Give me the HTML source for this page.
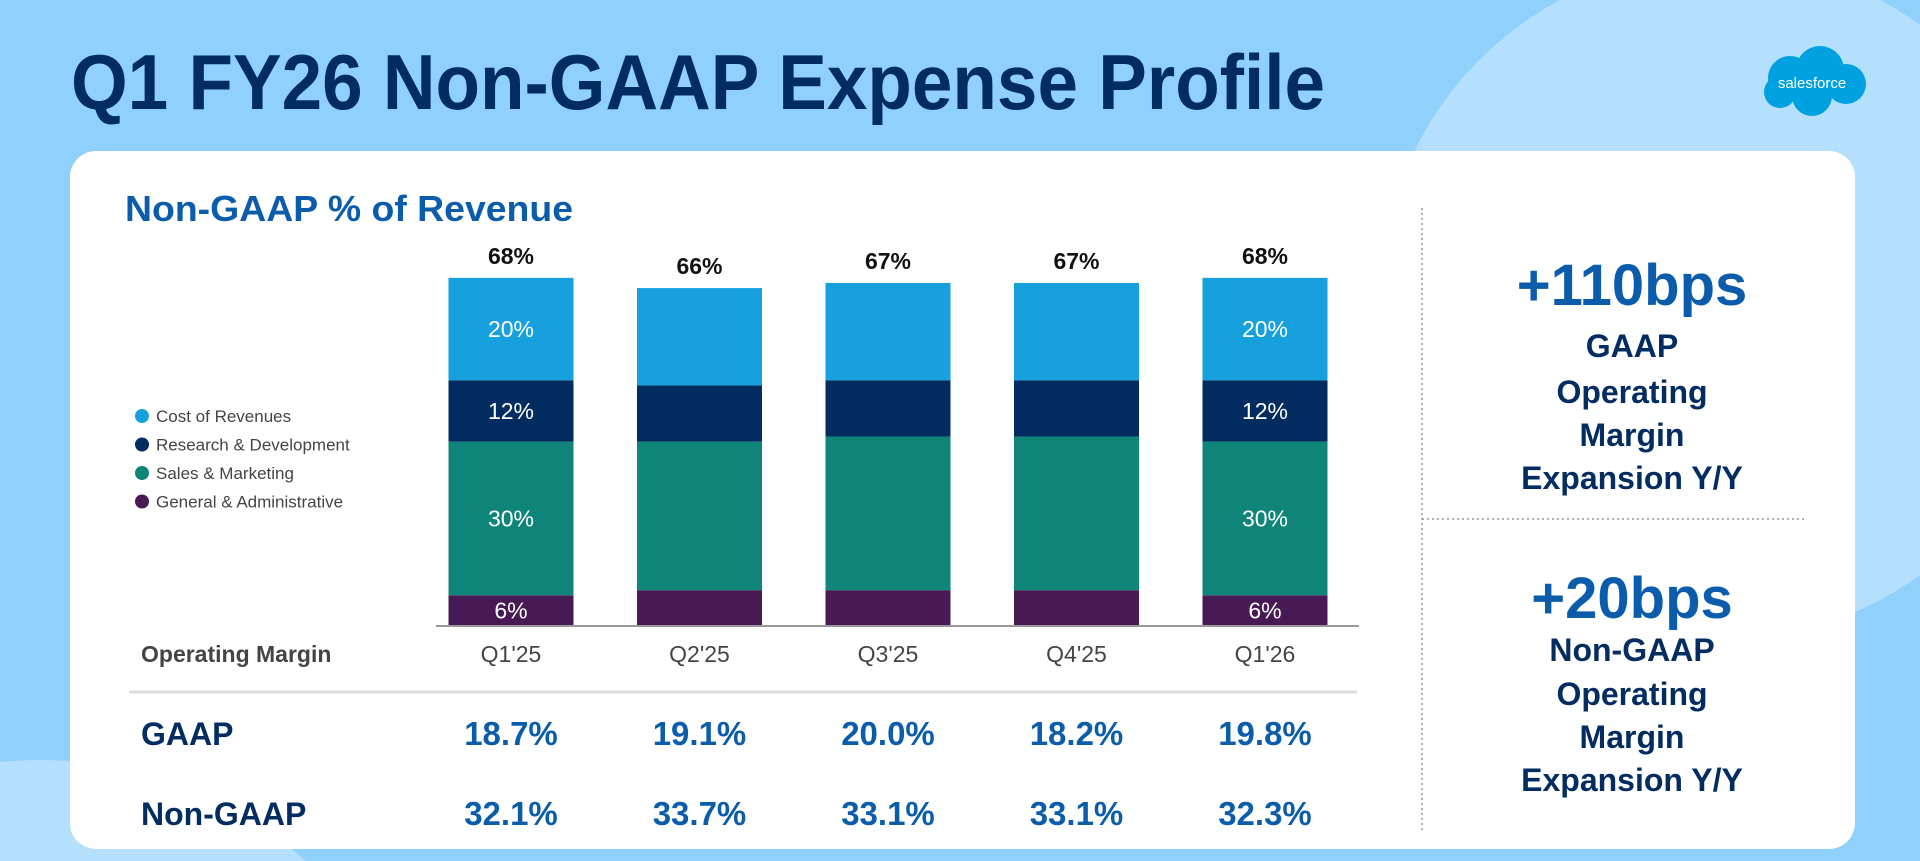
<!DOCTYPE html>
<html><head><meta charset="utf-8"><style>
html,body{margin:0;padding:0;background:#90d0fc;width:1920px;height:861px;overflow:hidden;}
svg{display:block;font-family:"Liberation Sans",sans-serif;}
</style></head><body>
<svg id="chart" width="1920" height="861" viewBox="0 0 1920 861">
<rect x="0" y="0" width="1920" height="861" fill="#90d0fc"/>
<circle cx="1720" cy="300" r="340" fill="#b5e0fd"/>
<circle cx="40" cy="1160" r="400" fill="#b5e0fd"/>
<text x="71" y="109" font-size="78" font-weight="bold" fill="#032d60" textLength="1254" lengthAdjust="spacingAndGlyphs">Q1 FY26 Non-GAAP Expense Profile</text>
<g>
<circle cx="1790" cy="78" r="22" fill="#00a1e0"/><circle cx="1820" cy="70" r="24" fill="#00a1e0"/><circle cx="1846" cy="84" r="20" fill="#00a1e0"/><circle cx="1812" cy="96" r="20" fill="#00a1e0"/><circle cx="1780" cy="92" r="16" fill="#00a1e0"/>
<text x="1812" y="88" font-size="15" fill="#fff" text-anchor="middle">salesforce</text>
</g>
<rect x="70" y="151" width="1785" height="698" rx="26" fill="#fff"/>
<text x="125" y="221" font-size="36" font-weight="bold" fill="#0b5cab" textLength="448" lengthAdjust="spacingAndGlyphs">Non-GAAP % of Revenue</text>
<g id="legend"></g>
<g id="bars"></g>
<line x1="436" y1="626" x2="1359" y2="626" stroke="#999" stroke-width="2"/>
<text x="141" y="662" font-size="23" font-weight="bold" fill="#444">Operating Margin</text>
<line x1="129" y1="692" x2="1357" y2="692" stroke="#ddd" stroke-width="3"/>
<text x="141" y="745" font-size="32" font-weight="bold" fill="#032d60">GAAP</text>
<text x="141" y="825" font-size="32" font-weight="bold" fill="#032d60">Non-GAAP</text>
<g id="table"></g>
<line x1="1422" y1="208" x2="1422" y2="830" stroke="#999" stroke-width="1.5" stroke-dasharray="2,3"/>
<line x1="1422" y1="519" x2="1805" y2="519" stroke="#999" stroke-width="1.5" stroke-dasharray="2,3"/>
<g text-anchor="middle" font-weight="bold">
<text x="1632" y="305" font-size="58" fill="#0b5cab">+110bps</text>
<text x="1632" y="357" font-size="32" fill="#032d60">GAAP</text>
<text x="1632" y="403" font-size="32" fill="#032d60">Operating</text>
<text x="1632" y="446" font-size="32" fill="#032d60">Margin</text>
<text x="1632" y="489" font-size="32" fill="#032d60">Expansion Y/Y</text>
</g>
<g text-anchor="middle" font-weight="bold">
<text x="1632" y="618" font-size="58" fill="#0b5cab">+20bps</text>
<text x="1632" y="661" font-size="32" fill="#032d60">Non-GAAP</text>
<text x="1632" y="705" font-size="32" fill="#032d60">Operating</text>
<text x="1632" y="748" font-size="32" fill="#032d60">Margin</text>
<text x="1632" y="791" font-size="32" fill="#032d60">Expansion Y/Y</text>
</g>
</svg>
<script>
const categories = ["Q1'25","Q2'25","Q3'25","Q4'25","Q1'26"];
const seriesNames = ["General & Administrative","Sales & Marketing","Research & Development","Cost of Revenues"];
const gaValues = [6,7,7,7,6];
const smValues = [30,29,30,30,30];
const rdValues = [12,11,11,11,12];
const costValues = [20,19,19,19,20];
const totalLabels = ["68%","66%","67%","67%","68%"];
const showInner = [true,false,false,false,true];
const gaapMargin = ["18.7%","19.1%","20.0%","18.2%","19.8%"];
const nonGaapMargin = ["32.1%","33.7%","33.1%","33.1%","32.3%"];

const NS="http://www.w3.org/2000/svg";
const colors=["#481a54","#0f857a","#032d60","#16a0dd"];
const baseY=626, pxPer=5.12, barW=125;
const xCenter=i=>511+i*188.5;
const yScale=v=>baseY-v*pxPer;
function mk(tag,attrs,parent){const e=document.createElementNS(NS,tag);for(const k in attrs)e.setAttribute(k,attrs[k]);parent.appendChild(e);return e;}
const bars=document.getElementById('bars');
const series=[gaValues,smValues,rdValues,costValues];
categories.forEach((c,i)=>{
  let acc=0;
  series.forEach((s,j)=>{
    const y0=yScale(acc), y1=yScale(acc+s[i]);
    const r=mk('rect',{x:xCenter(i)-barW/2,y:y1,width:barW,height:y0-y1,fill:colors[j]},bars);
    
    
    if(showInner[i]){
      const t=mk('text',{x:xCenter(i),y:(y0+y1)/2+8,'font-size':23,fill:'#fff','text-anchor':'middle'},bars);
      t.textContent=s[i]+'%';
      
      
    }
    acc+=s[i];
  });
  const t=mk('text',{x:xCenter(i),y:yScale(acc)-14,'font-size':23,'font-weight':'bold',fill:'#111','text-anchor':'middle'},bars);
  t.textContent=totalLabels[i];
  
  
  const q=mk('text',{x:xCenter(i),y:662,'font-size':23,fill:'#444','text-anchor':'middle'},bars);
  q.textContent=c;
  
  
});
const table=document.getElementById('table');
categories.forEach((c,i)=>{
  const a=mk('text',{x:xCenter(i),y:745,'font-size':33,'font-weight':'bold',fill:'#0b5cab','text-anchor':'middle'},table);
  a.textContent=gaapMargin[i];
  
  
  const b=mk('text',{x:xCenter(i),y:825,'font-size':33,'font-weight':'bold',fill:'#0b5cab','text-anchor':'middle'},table);
  b.textContent=nonGaapMargin[i];
  
  
});
const legend=document.getElementById('legend');
const legOrder=[3,2,1,0];
legOrder.forEach((j,k)=>{
  const y=416+k*28.5;
  const d=mk('circle',{cx:142,cy:y,r:7,fill:colors[j]},legend);
  
  
  const t=mk('text',{x:156,y:y+6,'font-size':17,fill:'#444'},legend);
  t.textContent=seriesNames[j];
  
  
});
</script>
</body></html>
